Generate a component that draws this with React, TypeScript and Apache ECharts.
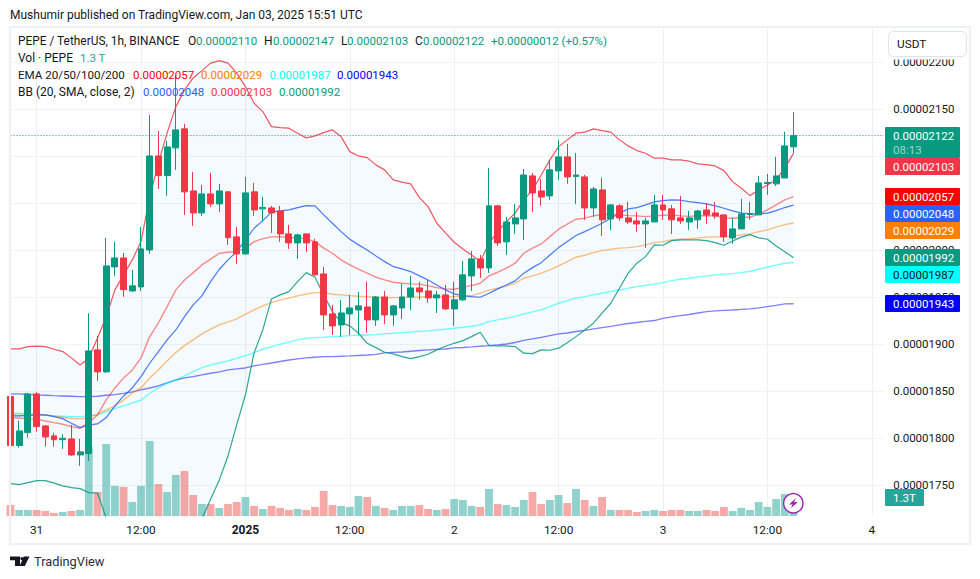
import React, { useEffect, useRef } from "react";
import * as echarts from "echarts";

// Prices are expressed in units of 0.00000001 (2122 = 0.00002122)
const UNIT = 1e-8;

// [open, close, low, high]
const candles: number[][] = [
  [1844.3,1792.2,1786.5,1848.2],[1792.2,1807.8,1790,1818.8],[1806,1847.2,1800.7,1848.2],[1847.2,1812.4,1807.1,1849],[1813.1,1801.4,1791.1,1814],
  [1802.5,1798.5,1791,1805.7],[1798.5,1800,1788.7,1804.3],[1799.3,1782.3,1781.2,1814.2],[1782.3,1785.5,1770.6,1799.3],[1783.7,1892.9,1775.9,1933],
  [1894,1870.6,1861,1908.9],[1870.6,1983.3,1869.5,2013.1],[1982.3,1991.8,1972.7,2008.9],[1991.8,1958.1,1950.4,1997.2],[1956.7,1962.1,1956,1979.1],
  [1961,2001.4,1956.7,2024.8],[2000.3,2100.3,1996.1,2144],[2100.3,2079.4,2065.2,2126.9],[2079.4,2109.9,2057.8,2116.3],[2108.9,2128,2085.5,2185.5],
  [2129.1,2062.1,2037.6,2134.4],[2063.1,2039.7,2025.9,2083.3],[2039.7,2059.9,2036.5,2069.5],[2059.9,2049.3,2046.1,2082.3],[2049.3,2063.1,2040.8,2070.6],
  [2062.1,2013.4,2005.7,2063],[2014.2,1996.1,1985.5,2024.8],[1996.1,2061,1995,2078],[2062.1,2042.9,2036.5,2071.6],[2044,2045.5,2030.5,2056.7],
  [2045,2039.7,2018.4,2047.2],[2041.8,2017.4,2008.9,2047.2],[2017.4,2007.8,2001.4,2026.9],[2007.8,2016.3,1990.8,2017.4],[2017.4,2007.8,1998.2,2017.5],
  [2008.9,1973.8,1973,2012.1],[1974.8,1931.2,1915.2,1982.3],[1932.3,1919.5,1909.9,1941.8],[1920.6,1933.3,1907.8,1947.2],[1932.3,1938.6,1909.9,1952.5],
  [1936.5,1940.8,1909.9,1955.7],[1939.7,1925.9,1912.1,1966.3],[1925.9,1950.3,1919.5,1951.4],[1950.3,1931.2,1921.6,1956.7],[1931.2,1940.8,1919.5,1941.8],
  [1938.6,1950.3,1926.9,1964.2],[1950.3,1959.9,1936.5,1972.7],[1959.9,1955.7,1947.2,1966.3],[1956.7,1949.3,1944,1968.4],[1949.3,1952.5,1933.3,1956.7],
  [1952.5,1937.6,1936.5,1963.1],[1937.6,1947.2,1919.5,1966.3],[1947.2,1973.8,1946,1988.6],[1972.7,1990.8,1956.7,1999.3],[1990.8,1981.2,1970.6,1995],
  [1981.2,2047.2,1975.9,2087.6],[2047.2,2007.8,2004.6,2048.2],[2008.9,2030.1,1995,2035.5],[2028,2034.4,2017.4,2049.3],[2033.3,2080.1,2011,2086.5],
  [2079.1,2061,2040.8,2082.3],[2063.1,2056.7,2047.2,2075.9],[2057.8,2085.5,2053.5,2096.1],[2084.4,2099.3,2074.8,2117.4],[2099.3,2078,2070.6,2113.1],
  [2078.5,2080,2049.3,2103.5],[2078,2045,2032.3,2080.1],[2045,2065.2,2035.5,2067.4],[2064.2,2032.3,2015.2,2076.9],[2033.3,2048.2,2021.6,2049],
  [2047.2,2034.4,2031.2,2049],[2034.4,2030.1,2028,2051.4],[2031.2,2028,2019.5,2040.8],[2028,2031.2,2002.5,2034.4],[2030.1,2048.2,2030,2058.9],
  [2048.2,2042.9,2032.3,2058.9],[2044,2032.3,2017.4,2048.2],[2034.4,2031.2,2028,2057.8],[2030.1,2034.4,2021.6,2041.8],[2032.3,2041.8,2022.7,2042.9],
  [2042.9,2037.6,2028,2050.3],[2039.7,2036.5,2033.3,2051.4],[2037.6,2014.2,2008.9,2038],[2013.1,2022.7,2006.7,2034.4],[2022.7,2038.6,2022.7,2054.6],
  [2038,2039,2032.3,2051.4],[2037.6,2071.6,2037.6,2079.1],[2071,2072,2058.9,2081.2],[2070.6,2079.1,2068.4,2099.3],[2076.9,2111,2076.9,2125.9],
  [2110,2122,2103,2147],
];

// Volume in trillions of PEPE
const volumes: number[] = [
  0.76,0.42,0.42,0.42,0.35,0.21,0.28,0.35,0.42,4.82,
  1.67,5.0,2.09,2.02,0.97,2.09,5.21,2.22,1.67,2.85,
  3.13,1.46,0.83,0.83,0.56,0.83,0.97,1.32,0.7,0.49,
  0.7,0.56,0.42,0.49,0.42,0.63,1.74,0.76,0.7,0.63,
  1.39,1.32,0.7,0.56,0.42,0.7,0.7,0.76,0.49,0.42,
  0.49,1.18,1.11,0.7,0.63,1.88,0.83,0.76,0.63,1.11,
  1.67,0.83,1.11,1.46,0.9,1.88,1.11,0.7,1.32,0.42,
  0.42,0.42,0.28,0.35,0.42,0.35,0.42,0.42,0.35,0.35,
  0.42,0.35,0.63,0.35,0.56,0.42,0.97,0.63,1.18,1.53,
  1.3,
];

const bbUpper: number[] = [
  1895,1895,1897.5,1897.9,1897.5,1894.7,1892.2,1885.5,1878,1885.1,
  1906.7,1929,1957.8,1973.8,1989.7,2009.2,2056.7,2092.9,2124.8,2152.5,
  2170.6,2183.3,2191.1,2199,2201.7,2199,2188.3,2174.1,2156.4,2147.5,
  2131.5,2130.5,2129.8,2124.5,2119.5,2121.6,2125.1,2128,2120.9,2104.9,
  2100.3,2098.5,2090.8,2085.5,2074.8,2072.4,2070.6,2056,2046.4,2028.7,
  2018.4,2008.5,2001.4,1995,1987.9,2007.5,2019.8,2030.5,2039.4,2053.5,
  2064.2,2080.1,2096.1,2110.2,2117.4,2124.5,2125.6,2129.1,2127.3,2125.6,
  2117.4,2111,2106,2103.2,2097.9,2097.9,2096.1,2096.1,2094.7,2091.8,
  2091.1,2089.7,2084.7,2073,2066,2058.1,2064.2,2069.5,2074.8,2087.3,
  2103,
];

const bbBasis: number[] = [
  1823.8,1823.8,1824.3,1824.8,1824.8,1823,1820.9,1816,1811.3,1814.2,
  1815.2,1822,1834.4,1845,1853.5,1865.6,1879.8,1892.2,1904.6,1915.2,
  1929.4,1941.8,1951.4,1966.6,1979.8,1989.7,1998.5,2011,2023.4,2031.5,
  2040.5,2041.8,2042.9,2045.4,2047.5,2047.2,2037.6,2028.7,2019.8,2011.7,
  2005.7,2000.3,1994,1987.9,1982.6,1980.1,1977.3,1972.7,1968.4,1963.1,
  1957.8,1953.5,1951.7,1950.7,1950,1954.3,1958.9,1963.1,1967.4,1975.6,
  1981.5,1986.8,1995,2002.8,2009.2,2015.6,2019.8,2024.1,2028.7,2034,
  2039.4,2044,2045.4,2048.2,2051.4,2052.8,2053.5,2053.2,2051.7,2050.7,
  2049.3,2047.2,2044.7,2041.8,2039.4,2038.6,2038.6,2039.4,2042.2,2045.4,
  2048,
];

const bbLower: number[] = [
  1751.7,1750.7,1752.8,1754.9,1754.9,1752.2,1749.3,1747.5,1746.4,1742.2,
  1741.5,1715.2,1691.8,1670.6,1649.3,1638.6,1628,1633.3,1644,1660,
  1670.6,1691.8,1714.2,1735.1,1755.7,1781.2,1814.2,1846,1890.8,1915.2,
  1948.2,1952.5,1956,1966.6,1976.2,1971.3,1952.5,1934.7,1923,1919.5,
  1911.7,1901,1896.4,1891.5,1889.7,1886.8,1884.7,1886.8,1889.4,1894,
  1897.9,1901,1903.9,1908.1,1912.8,1898.5,1898.2,1898.2,1897.5,1890.5,
  1890,1894,1893.6,1895.8,1901.7,1908.1,1915.2,1922.4,1933,1943.6,
  1959.6,1975.6,1986.2,1993.2,2005.7,2005.3,2010.2,2011,2011,2011,
  2010.2,2008.1,2005.3,2009.9,2013.9,2016.6,2013.1,2011.7,2004.6,1998.5,
  1992,
];

const ema20: number[] = [
  1822,1821.6,1820.6,1820.2,1818.4,1816.6,1814.9,1812.4,1810.7,1816.6,
  1824.8,1840.8,1853.5,1864.2,1872.7,1885.5,1908.1,1922.7,1940,1957.8,
  1968.4,1976.2,1984.4,1990.5,1996.8,1997.9,1998.5,2002.2,2009.2,2012.4,
  2014.2,2014.5,2013.4,2013.4,2012.1,2009.2,2002.2,1996.8,1989.7,1984.4,
  1979.8,1975.6,1971.3,1968.4,1966,1964.9,1964.2,1963.9,1962.1,1960.2,
  1958.9,1958.5,1960.7,1962.4,1964.9,1972.7,1976.6,1980.9,1986.2,1996.8,
  2002.2,2006.7,2014.5,2022.4,2027.7,2033,2034.1,2036.5,2038.3,2038.3,
  2037.9,2036.8,2036.5,2035.8,2036.5,2037.2,2037.6,2036.5,2036,2036.5,
  2037,2036.5,2034.4,2034.1,2035.1,2035.1,2038.6,2042.9,2048.2,2053.5,
  2057,
];

const ema50: number[] = [
  1826.6,1826.4,1825.9,1825.6,1824.8,1823.8,1822.4,1821.3,1820.6,1822.4,
  1825.6,1830.1,1834.4,1840.8,1848.2,1853.5,1864.2,1872.7,1882.3,1891.1,
  1898.5,1904.6,1911,1916,1920.6,1923.8,1927,1932,1936.5,1940.8,
  1944.3,1947.2,1949,1951.4,1953.5,1954.9,1954.9,1953.2,1952.5,1951.7,
  1951.1,1950.7,1950,1949.6,1949.6,1949.6,1950,1950.3,1950.7,1950.7,
  1950.3,1950.7,1951.1,1951.7,1954.3,1957.5,1959.6,1962.1,1964.9,1970.2,
  1972.7,1975.6,1979.1,1983.3,1987.9,1992.6,1994.7,1997.5,1999.6,2001.1,
  2002.2,2002.8,2003.9,2005.7,2008.1,2009.2,2011,2011.7,2012.4,2013.1,
  2013.9,2014.2,2014.5,2015.2,2016.3,2017.4,2019.8,2021.6,2024.5,2027.3,
  2029,
];

const ema100: number[] = [
  1824.8,1824.8,1824.8,1824.8,1824.3,1823.8,1823.4,1823,1823,1823.8,
  1824.8,1828,1831.7,1834.4,1837.6,1840.4,1847.9,1853.5,1858.5,1862,
  1866.3,1870.9,1875.1,1878,1880.1,1882.3,1885.1,1887.6,1891.1,1894.7,
  1897.5,1900,1902.2,1904.6,1906.4,1907,1907.5,1908.1,1908.5,1909.2,
  1909.6,1909.9,1910.2,1911,1911.7,1912.4,1913.1,1913.9,1914.2,1915.2,
  1916,1917,1918.1,1919.2,1920.6,1924.1,1925.9,1927.7,1929.4,1932.3,
  1934.4,1936.5,1940,1943.6,1946.4,1949,1950.7,1952.5,1954.3,1956,
  1957.8,1959.6,1961.3,1962.8,1963.9,1965.6,1967.7,1969.2,1970.2,1971.6,
  1972.7,1973.8,1974.5,1975.1,1976.2,1977.7,1979.8,1981.9,1984.1,1986.2,
  1987,
];

const ema200: number[] = [
  1847.2,1847.2,1846.6,1846.1,1845.8,1845.3,1845,1844.7,1844.3,1844.3,
  1844.7,1845.8,1846.4,1847.7,1849.3,1851.4,1853.5,1855.7,1858.9,1862,
  1864.2,1865.6,1867.4,1869.2,1870.6,1872.7,1873.8,1874.8,1877,1878.6,
  1880.1,1881.7,1883.3,1884.4,1885.5,1886.2,1886.8,1886.8,1887.3,1887.6,
  1888.1,1888.6,1889.2,1890.8,1891.3,1891.8,1892.6,1893.4,1894,1894.5,
  1895,1896.1,1896.6,1897.2,1897.9,1898.5,1899.3,1900.3,1901.9,1904.1,
  1905.7,1907.3,1909.2,1911,1912,1913.6,1914.7,1916.3,1917.7,1919,
  1920.6,1922,1923.2,1924.3,1925.2,1927.5,1929.1,1930.5,1931.7,1933.3,
  1934.7,1935.5,1936,1936.5,1937.1,1937.6,1938.7,1940,1941.3,1942.9,
  1943,
];

// Time-axis labels by candle slot (1h slots; slot 0 = Dec 30 21:00 UTC)
const timeLabels: Record<number, string> = {
  3: "31", 15: "12:00", 27: "2025", 39: "12:00", 51: "2", 63: "12:00", 75: "3", 87: "12:00", 99: "4",
};
const SLOT_COUNT = 102;
const categories: string[] = Array.from({ length: SLOT_COUNT }, (_, i) => timeLabels[i] ?? "");

const lastPrice = 2122;
const volumeAxisMax = 33.9;
const priceAxisMin = 1717.3;
const priceAxisMax = 2236.4;
const tickAxisMin = 1700;
const tickAxisMax = 2250;
const tickInterval = 50;

const UP = "#089981";
const DOWN = "#f23645";
const VOL_UP = "rgba(38,166,154,0.5)";
const VOL_DOWN = "rgba(239,83,80,0.5)";
const FONT = "Roboto, 'Open Sans', sans-serif";
const INK = "#131722";

const fmt = (v: number) => (v * UNIT).toFixed(8);

type T = { text: string; x: number; y: number; fill: string; size?: number; weight?: string };

const titleText = "Mushumir published on TradingView.com, Jan 03, 2025 15:51 UTC";
const NUM = 11.5;

const legendTexts: T[] = [
  { text: "PEPE / TetherUS, 1h, BINANCE", x: 18, y: 41, fill: INK, size: 11.9 },
  { text: "O", x: 188, y: 41, fill: INK },
  { text: "0.00002110", x: 196, y: 41, fill: UP, size: NUM },
  { text: "H", x: 264, y: 41, fill: INK },
  { text: "0.00002147", x: 273, y: 41, fill: UP, size: NUM },
  { text: "L", x: 341, y: 41, fill: INK },
  { text: "0.00002103", x: 347, y: 41, fill: UP, size: NUM },
  { text: "C", x: 415, y: 41, fill: INK },
  { text: "0.00002122", x: 423, y: 41, fill: UP, size: NUM },
  { text: "+0.00000012 (+0.57%)", x: 491, y: 41, fill: UP, size: NUM },
  { text: "Vol · PEPE", x: 18, y: 58, fill: INK },
  { text: "1.3 T", x: 80, y: 58, fill: "#26a69a", size: NUM },
  { text: "EMA 20/50/100/200", x: 18, y: 75, fill: INK, size: 11.6 },
  { text: "0.00002057", x: 133, y: 75, fill: "#ff0000", size: NUM },
  { text: "0.00002029", x: 201, y: 75, fill: "#ff8000", size: NUM },
  { text: "0.00001987", x: 269.5, y: 75, fill: "#00ffff", size: NUM },
  { text: "0.00001943", x: 337, y: 75, fill: "#0000ff", size: NUM },
  { text: "BB (20, SMA, close, 2)", x: 18, y: 92, fill: INK },
  { text: "0.00002048", x: 143, y: 92, fill: "#2962ff", size: NUM },
  { text: "0.00002103", x: 211, y: 92, fill: DOWN, size: NUM },
  { text: "0.00001992", x: 279, y: 92, fill: UP, size: NUM },
];

type B = { text: string; y: number; h: number; bg: string; fg: string; w?: number };
const badges: B[] = [
  { text: "0.00002122", y: 127, h: 31, bg: UP, fg: "#ffffff" },
  { text: "0.00002103", y: 158, h: 17, bg: DOWN, fg: "#ffffff" },
  { text: "0.00002057", y: 188, h: 17, bg: "#ff0000", fg: "#ffffff" },
  { text: "0.00002048", y: 205, h: 17, bg: "#2962ff", fg: "#ffffff" },
  { text: "0.00002029", y: 222, h: 17, bg: "#ff8000", fg: "#ffffff" },
  { text: "0.00001992", y: 249, h: 17, bg: UP, fg: "#ffffff" },
  { text: "0.00001987", y: 266, h: 17, bg: "#00ffff", fg: "#131722" },
  { text: "0.00001943", y: 295, h: 17, bg: "#0000ff", fg: "#ffffff" },
  { text: "1.3T", y: 489, h: 17, bg: "#26a69a", fg: "#ffffff", w: 39 },
];

const G_LEFT = 10.5;
const G_WIDTH = 878.7;

function buildGraphics(): any[] {
  const out: any[] = [];
  const text = (t: T, z = 20) => ({
    type: "text",
    x: t.x,
    y: t.y,
    z,
    silent: true,
    style: {
      text: t.text,
      fill: t.fill,
      fontFamily: FONT,
      fontSize: t.size ?? 12,
      fontWeight: t.weight ?? "normal",
      textAlign: "left",
      textVerticalAlign: "middle",
    },
  });
  // Hide the grid overhang past the price scale edge
  out.push({ type: "rect", z: 5, silent: true, shape: { x: 884, y: 28, width: 6, height: 489 }, style: { fill: "#ffffff" } });
  // Pane frame
  out.push({
    type: "rect", z: 6, silent: true,
    shape: { x: 10, y: 27, width: 960, height: 517 },
    style: { fill: "none", stroke: "#eff0f6", lineWidth: 2 },
  });
  out.push(text({ text: titleText, x: 10, y: 15, fill: INK, size: 12 }));
  legendTexts.forEach((t) => out.push(text(t)));
  // USDT button
  out.push({
    type: "rect", z: 18, silent: true,
    shape: { x: 886, y: 57, width: 82, height: 2.5 },
    style: { fill: "#ffffff" },
  });
  out.push({
    type: "rect", z: 18, silent: true,
    shape: { x: 888.5, y: 31.5, width: 78, height: 25, r: 5 },
    style: { fill: "#ffffff", stroke: "#e0e3eb", lineWidth: 1 },
  });
  out.push(text({ text: "USDT", x: 897, y: 44, fill: INK, size: 11.8 }));
  // Price badges
  badges.forEach((b) => {
    out.push({
      type: "rect", z: 18, silent: true,
      shape: { x: 885, y: b.y, width: b.w ?? 75, height: b.h, r: 1 },
      style: { fill: b.bg },
    });
    out.push(text({ text: b.text, x: 893, y: b.y + (b.h > 20 ? 8.5 : b.h / 2), fill: b.fg, size: 11.5 }));
  });
  out.push(text({ text: "08:13", x: 893, y: 149.5, fill: "rgba(255,255,255,0.6)", size: 11.5 }));
  // Lightning marker
  out.push({
    type: "circle", z: 19, silent: true,
    shape: { cx: 793.3, cy: 503.3, r: 9.7 },
    style: { fill: "#ffffff", stroke: "#9c27b0", lineWidth: 1.5 },
  });
  out.push({
    type: "polygon", z: 20, silent: true,
    shape: { points: [[796, 498], [789, 504.5], [792.6, 504.5], [790.8, 508.5], [797.8, 502], [794, 502]] },
    style: { fill: "#9c27b0" },
  });
  // TradingView wordmark
  out.push({
    type: "tvMark", z: 20, x: 10, y: 556.5, silent: true,
    style: { fill: "#131722" },
  });
  out.push(text({ text: "TradingView", x: 34, y: 561.5, fill: "#2a2e39", size: 12.8 }));
  return out;
}

const App: React.FC = () => {
  const ref = useRef<HTMLDivElement>(null);

  useEffect(() => {
    if (!ref.current) return;
    echarts.graphic.registerShape(
      "tvMark",
      echarts.graphic.extendPath(
        "M0 0H10V9.5H5V3.8H0ZM13.8 0H19.5L14.8 9.5H9.6ZM12 0.4a1.7 1.7 0 1 1 0 3.4a1.7 1.7 0 1 1 0-3.4Z",
        {}
      )
    );
    const chart = echarts.init(ref.current, undefined, { renderer: "svg" });

    const isLabelled = (i: number) => !!categories[i];
    const lineSeries = (name: string, data: number[], color: string, opacity: number, width: number) => ({
      name,
      type: "line",
      xAxisIndex: 0,
      yAxisIndex: 0,
      data,
      symbol: "none",
      showSymbol: false,
      z: 2,
      silent: true,
      lineStyle: { color, opacity, width },
    });

    chart.setOption({
      animation: false,
      backgroundColor: "#ffffff",
      textStyle: { fontFamily: FONT },
      grid: [
        { left: G_LEFT, top: 28, width: G_WIDTH, height: 488 },
        { left: G_LEFT, top: 15.3, width: G_WIDTH, height: 517 },
      ],
      xAxis: [
        {
          type: "category",
          gridIndex: 0,
          data: categories,
          boundaryGap: false,
          axisLine: { show: false },
          axisTick: { show: false },
          splitLine: { show: true, interval: (i: number) => isLabelled(i), lineStyle: { color: "#eef0f3", width: 1 } },
          axisLabel: {
            interval: (i: number) => isLabelled(i),
            margin: 8,
            color: INK,
            fontFamily: FONT,
            fontSize: 11.8,
            hideOverlap: false,
            formatter: (v: string) => (v === "2025" ? `{y|${v}}` : v),
            rich: { y: { fontWeight: "bold", color: INK, fontFamily: FONT, fontSize: 12 } },
          },
        },
        { type: "value", gridIndex: 1, min: 0, max: 1, show: false },
      ],
      yAxis: [
        { type: "value", gridIndex: 0, min: priceAxisMin, max: priceAxisMax, show: false, splitLine: { show: false } },
        { type: "value", gridIndex: 0, min: 0, max: volumeAxisMax, show: false, splitLine: { show: false } },
        {
          type: "value",
          gridIndex: 1,
          position: "right",
          min: tickAxisMin,
          max: tickAxisMax,
          interval: tickInterval,
          axisLine: { show: false },
          axisTick: { show: false },
          splitLine: { show: true, showMinLine: false, showMaxLine: false, lineStyle: { color: "#f2f3f6", width: 1 } },
          axisLabel: {
            showMinLabel: false,
            showMaxLabel: false,
            margin: 4,
            color: INK,
            fontFamily: FONT,
            fontSize: 11.5,
            formatter: (v: number) => fmt(v),
          },
        },
      ],
      series: [
        {
          name: "Volume",
          type: "bar",
          xAxisIndex: 0,
          yAxisIndex: 1,
          barWidth: 7.8,
          z: 1,
          silent: true,
          data: volumes.map((v, i) => ({
            value: v,
            itemStyle: { color: candles[i][1] >= candles[i][0] ? VOL_UP : VOL_DOWN },
          })),
        },
        {
          name: "BB base",
          type: "line",
          xAxisIndex: 0,
          yAxisIndex: 0,
          stack: "bb",
          data: bbLower,
          symbol: "none",
          z: 1,
          silent: true,
          lineStyle: { opacity: 0 },
        },
        {
          name: "BB band",
          type: "line",
          xAxisIndex: 0,
          yAxisIndex: 0,
          stack: "bb",
          data: bbUpper.map((u, i) => u - bbLower[i]),
          symbol: "none",
          z: 1,
          silent: true,
          lineStyle: { opacity: 0 },
          areaStyle: { color: "rgba(33,150,243,0.05)", opacity: 1 },
        },
        lineSeries("EMA 200", ema200, "#0000ff", 0.5, 1.4),
        lineSeries("EMA 100", ema100, "#00ffff", 0.55, 1.4),
        lineSeries("EMA 50", ema50, "#ff8000", 0.5, 1.4),
        lineSeries("EMA 20", ema20, "#ff0000", 0.45, 1.4),
        lineSeries("BB upper", bbUpper, DOWN, 0.85, 1.2),
        lineSeries("BB lower", bbLower, UP, 0.85, 1.2),
        lineSeries("BB basis", bbBasis, "#2962ff", 0.85, 1.2),
        {
          name: "Last price",
          type: "line",
          xAxisIndex: 0,
          yAxisIndex: 0,
          data: categories.map(() => lastPrice),
          symbol: "none",
          z: 4,
          silent: true,
          lineStyle: { color: UP, type: [1, 2], width: 1 },
        },
        {
          name: "PEPE / TetherUS",
          type: "candlestick",
          xAxisIndex: 0,
          yAxisIndex: 0,
          data: candles,
          barWidth: 6.4,
          z: 3,
          silent: true,
          itemStyle: { color: UP, color0: DOWN, borderColor: UP, borderColor0: DOWN, borderWidth: 1 },
        },
      ],
      graphic: { elements: buildGraphics() },
    });
    return () => chart.dispose();
  }, []);

  return <div ref={ref} style={{ position: "absolute", left: 0, top: 0, width: 980, height: 579 }} />;
};

export default App;
